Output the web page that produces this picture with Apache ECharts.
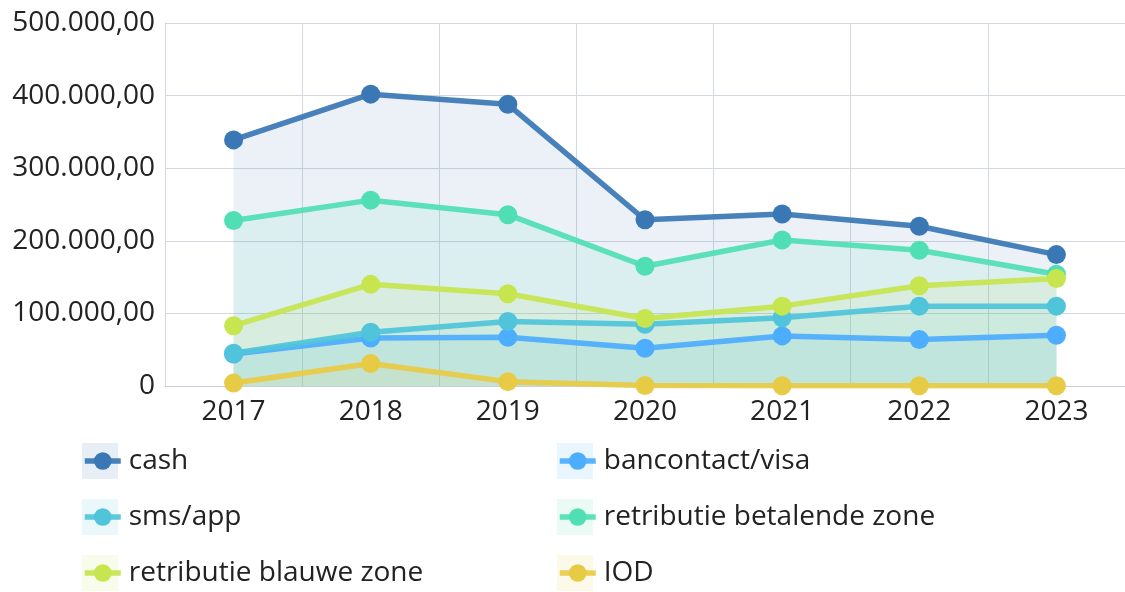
<!DOCTYPE html>
<html>
<head>
<meta charset="utf-8">
<script src="https://cdn.jsdelivr.net/npm/echarts@6/dist/echarts.min.js"></script>
<style>
  html, body { margin: 0; padding: 0; background: #fff; }
  #chart { width: 1125px; height: 592px; }
</style>
</head>
<body>
<div id="chart"></div>
<script>
  // jaren
  var years = ['2017', '2018', '2019', '2020', '2021', '2022', '2023'];

  // ontvangsten per betaalwijze
  var cash = [339000, 402000, 388000, 229000, 237000, 220000, 181000];
  var bancontact = [44000, 66000, 67000, 52000, 69000, 64000, 70000];
  var smsApp = [45000, 74000, 89000, 85000, 94000, 110000, 110000];
  var betalendeZone = [228000, 256000, 236000, 165000, 201000, 187000, 154000];
  var blauweZone = [83000, 140000, 127000, 93000, 110000, 138000, 148000];
  var iod = [4000, 31000, 6000, 600, 300, 300, 300];

  var names = ['cash', 'bancontact/visa', 'sms/app', 'retributie betalende zone', 'retributie blauwe zone', 'IOD'];
  var values = [cash, bancontact, smsApp, betalendeZone, blauweZone, iod];
  var colors = ['#3a77b5', '#4dadfe', '#4fc4da', '#50dfb5', '#c7e54f', '#e8cb45'];

  var font = '"Open Sans", "Noto Sans", sans-serif';

  function formatNL(v) {
    if (v === 0) return '0';
    return v.toLocaleString('nl-BE', {minimumFractionDigits: 2, maximumFractionDigits: 2});
  }

  var series = names.map(function (n, i) {
    return {
      name: n,
      type: 'line',
      data: values[i],
      symbol: 'circle',
      symbolSize: 19,
      color: colors[i],
      lineStyle: {width: 5.5, opacity: 0.92},
      areaStyle: {opacity: 0.1},
      itemStyle: {color: colors[i]}
    };
  });

  // legenda: lichte vlakjes achter de lijn-iconen, twee kolommen
  function legendBg(left, data) {
    return {
      left: left,
      top: 443,
      height: 160,
      padding: 0,
      orient: 'vertical',
      itemGap: 20,
      itemWidth: 36,
      itemHeight: 36,
      selectedMode: false,
      icon: 'rect',
      itemStyle: {opacity: 0.12},
      data: data,
      textStyle: {fontFamily: font, fontSize: 28, color: 'rgba(0,0,0,0)'}
    };
  }

  function legendLine(left, data) {
    return {
      left: left,
      top: 447,
      height: 160,
      padding: 0,
      orient: 'vertical',
      itemGap: 28,
      itemWidth: 36,
      itemHeight: 22,
      selectedMode: false,
      lineStyle: {width: 5.5},
      data: data,
      textStyle: {fontFamily: font, fontSize: 28, color: '#222', padding: [0, 0, 0, 3]}
    };
  }

  var col1 = [names[0], names[2], names[4]];
  var col2 = [names[1], names[3], names[5]];

  var chart = echarts.init(document.getElementById('chart'));
  chart.setOption({
    animation: false,
    grid: {left: 165, right: -6, top: 23, bottom: 206, containLabel: false},
    legend: [
      legendBg(82, col1),
      legendBg(557, col2),
      legendLine(82, col1),
      legendLine(557, col2)
    ],
    xAxis: {
      type: 'category',
      data: years,
      boundaryGap: true,
      axisTick: {show: false},
      axisLine: {show: true, lineStyle: {color: '#c9cfd9', width: 1}},
      splitLine: {show: true, lineStyle: {color: '#d3d8e0', width: 1}},
      axisLabel: {fontFamily: font, fontSize: 28, color: '#222', margin: 12}
    },
    yAxis: {
      type: 'value',
      min: 0,
      max: 500000,
      interval: 100000,
      axisLine: {show: true, lineStyle: {color: '#d3d8e0'}},
      axisTick: {show: false},
      splitLine: {lineStyle: {color: '#d3d8e0', width: 1}},
      axisLabel: {fontFamily: font, fontSize: 28, color: '#222', margin: 10, formatter: formatNL}
    },
    series: series
  });
</script>
</body>
</html>
